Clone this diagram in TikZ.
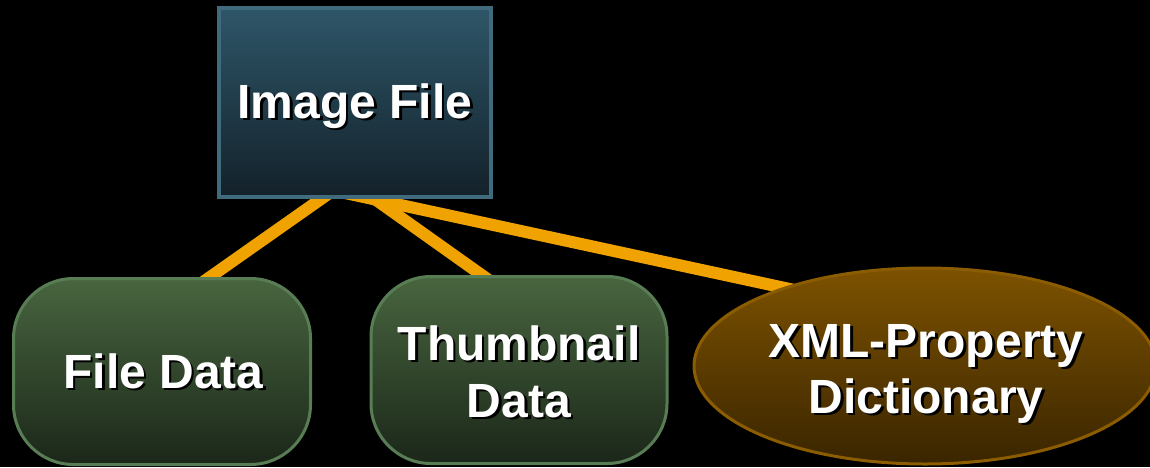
\documentclass[tikz,border=0pt]{standalone}
\usepackage{fontspec}
\setmainfont{Liberation Sans}
\usetikzlibrary{shapes.geometric,calc,backgrounds}

\definecolor{linkorange}{HTML}{F0A300}
\definecolor{imgtop}{HTML}{2E5668}
\definecolor{imgbot}{HTML}{13212A}
\definecolor{imgedge}{HTML}{3F6B7C}
\definecolor{grntop}{HTML}{48653F}
\definecolor{grnbot}{HTML}{1B2719}
\definecolor{grnedge}{HTML}{587D54}
\definecolor{brntop}{HTML}{7D5200}
\definecolor{brnbot}{HTML}{3A2500}
\definecolor{brnedge}{HTML}{8C5C00}

\pgfdeclarelayer{edges}
\pgfsetlayers{background,edges,main}

% text with a dark drop shadow: name, reference node, dx, dy, text
\newcommand\boxtext[5]{%
  \node[labelshade] at ($(#2)+({#3+2.5},{#4+2.5})$) {#5};
  \node[boxlabel] (#1) at ($(#2)+(#3,#4)$) {#5};}

\tikzset{
  imgbox/.style={rectangle, minimum width=272pt, minimum height=189pt,
    draw=imgedge, line width=4pt, top color=imgtop, bottom color=imgbot},
  databox/.style={rectangle, rounded corners=60pt, minimum width=297pt,
    minimum height=186pt, draw=grnedge, line width=3pt,
    top color=grntop, bottom color=grnbot},
  dictoval/.style={ellipse, minimum width=462pt, minimum height=196pt,
    inner sep=0pt, draw=brnedge, line width=3pt,
    top color=brntop, bottom color=brnbot},
  link/.style={draw=linkorange, line width=12pt},
  boxlabel/.style={anchor=base, inner sep=0pt, text=white,
    font=\fontsize{48}{56}\selectfont\bfseries},
  labelshade/.style={boxlabel, text=black}
}

\begin{document}
\begin{tikzpicture}[x=1pt, y=-1pt]
\useasboundingbox (0,0) rectangle (1150,467);
\begin{pgfonlayer}{background}
  \fill[black] (0,0) rectangle (1150,467);
\end{pgfonlayer}

% nodes
\node[imgbox] (img) at (355,102.5) {};
\node[databox] (fd) at (162,371.5) {};
\node[databox, minimum width=296pt, minimum height=187pt] (tn) at (519,370) {};
\node[dictoval] (ell) at (925,366) {};

% labels
\boxtext{imgtxt}{img}{0}{15.5}{Image File}
\boxtext{fdtxt}{fd}{1.5}{16.5}{File Data}
\boxtext{tntxta}{tn}{0}{-10}{Thumbnail}
\boxtext{tntxtb}{tn}{0}{47}{Data}
\boxtext{elltxta}{ell}{1}{-9}{XML-Property}
\boxtext{elltxtb}{ell}{1}{47}{Dictionary}

% connectors, tucked under the nodes
\coordinate (hub) at ($(img.south)+(-7,-19)$);
\coordinate (hub3) at ($(img.south)+(-10,-6)$);
\coordinate (fdend) at ($(fd.north)+(-13,43)$);
\coordinate (tnend) at ($(tn.north)+(26,45)$);
\coordinate (ellend) at ($(ell.center)+(-75,-64)$);
\begin{pgfonlayer}{edges}
  \draw[link] (hub) -- (fdend);
  \draw[link] (hub) -- (tnend);
  \draw[link] (hub3) -- (ellend);
\end{pgfonlayer}
\end{tikzpicture}
\end{document}
